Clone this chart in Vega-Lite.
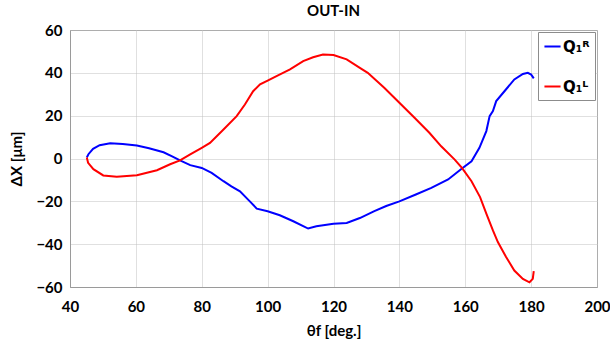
{
  "$schema": "https://vega.github.io/schema/vega-lite/v6.json",
  "autosize": {"type": "none"},
  "padding": {"left": 70, "top": 30, "right": 13, "bottom": 59},
  "width": 527,
  "height": 257,
  "title": {"text": "OUT-IN", "fontSize": 15, "font": "Lato", "fontWeight": "bold", "color": "#000", "offset": 4, "anchor": "middle"},
  "config": {
    "font": "Lato",
    "view": {"stroke": "#9a9a9a", "strokeWidth": 1},
    "axis": {
      "domainColor": "#9a9a9a",
      "gridColor": "#c0c0c0",
      "gridDash": [1, 1],
      "gridWidth": 1,
      "ticks": false,
      "labelFlush": false,
      "labelOverlap": false,
      "labelBound": false,
      "labelFont": "Lato",
      "labelFontSize": 15,
      "labelFontWeight": "bold",
      "labelColor": "#000",
      "titleFont": "Lato",
      "titleFontSize": 15,
      "titleFontWeight": "bold",
      "titleColor": "#000"
    }
  },
  "data": {
    "values": [
      {"s": "Q₁ᴿ", "i": 1, "x": 45.1, "y": 0.5},
      {"s": "Q₁ᴿ", "i": 2, "x": 45.6, "y": 2},
      {"s": "Q₁ᴿ", "i": 3, "x": 47, "y": 4.5},
      {"s": "Q₁ᴿ", "i": 4, "x": 49, "y": 6.2},
      {"s": "Q₁ᴿ", "i": 5, "x": 52.2, "y": 7.1},
      {"s": "Q₁ᴿ", "i": 6, "x": 56, "y": 6.8},
      {"s": "Q₁ᴿ", "i": 7, "x": 60.3, "y": 6.1},
      {"s": "Q₁ᴿ", "i": 8, "x": 64, "y": 4.8},
      {"s": "Q₁ᴿ", "i": 9, "x": 68.4, "y": 2.9},
      {"s": "Q₁ᴿ", "i": 10, "x": 71, "y": 1},
      {"s": "Q₁ᴿ", "i": 11, "x": 73.4, "y": -0.9},
      {"s": "Q₁ᴿ", "i": 12, "x": 76.5, "y": -3.1},
      {"s": "Q₁ᴿ", "i": 13, "x": 80, "y": -4.4},
      {"s": "Q₁ᴿ", "i": 14, "x": 83, "y": -6.7},
      {"s": "Q₁ᴿ", "i": 15, "x": 86.6, "y": -10.6},
      {"s": "Q₁ᴿ", "i": 16, "x": 89, "y": -13},
      {"s": "Q₁ᴿ", "i": 17, "x": 91.6, "y": -15.3},
      {"s": "Q₁ᴿ", "i": 18, "x": 94.6, "y": -20},
      {"s": "Q₁ᴿ", "i": 19, "x": 96.7, "y": -23.4},
      {"s": "Q₁ᴿ", "i": 20, "x": 100, "y": -24.6},
      {"s": "Q₁ᴿ", "i": 21, "x": 103.7, "y": -26.5},
      {"s": "Q₁ᴿ", "i": 22, "x": 107.8, "y": -29.3},
      {"s": "Q₁ᴿ", "i": 23, "x": 110.8, "y": -31.6},
      {"s": "Q₁ᴿ", "i": 24, "x": 112.3, "y": -32.7},
      {"s": "Q₁ᴿ", "i": 25, "x": 114.8, "y": -31.6},
      {"s": "Q₁ᴿ", "i": 26, "x": 120, "y": -30.5},
      {"s": "Q₁ᴿ", "i": 27, "x": 124, "y": -30.1},
      {"s": "Q₁ᴿ", "i": 28, "x": 128, "y": -27.8},
      {"s": "Q₁ᴿ", "i": 29, "x": 132.4, "y": -24.6},
      {"s": "Q₁ᴿ", "i": 30, "x": 136, "y": -22.2},
      {"s": "Q₁ᴿ", "i": 31, "x": 140, "y": -20},
      {"s": "Q₁ᴿ", "i": 32, "x": 145, "y": -16.8},
      {"s": "Q₁ᴿ", "i": 33, "x": 149.7, "y": -13.7},
      {"s": "Q₁ᴿ", "i": 34, "x": 154.8, "y": -9.8},
      {"s": "Q₁ᴿ", "i": 35, "x": 159, "y": -4.7},
      {"s": "Q₁ᴿ", "i": 36, "x": 161.9, "y": -1.3},
      {"s": "Q₁ᴿ", "i": 37, "x": 164.3, "y": 5},
      {"s": "Q₁ᴿ", "i": 38, "x": 166.4, "y": 12.8},
      {"s": "Q₁ᴿ", "i": 39, "x": 167.4, "y": 19.8},
      {"s": "Q₁ᴿ", "i": 40, "x": 168.4, "y": 22.1},
      {"s": "Q₁ᴿ", "i": 41, "x": 169.4, "y": 26.8},
      {"s": "Q₁ᴿ", "i": 42, "x": 171.9, "y": 31.4},
      {"s": "Q₁ᴿ", "i": 43, "x": 174.9, "y": 36.9},
      {"s": "Q₁ᴿ", "i": 44, "x": 177.5, "y": 39.5},
      {"s": "Q₁ᴿ", "i": 45, "x": 179, "y": 40},
      {"s": "Q₁ᴿ", "i": 46, "x": 180, "y": 39.2},
      {"s": "Q₁ᴿ", "i": 47, "x": 180.8, "y": 37.4},
      {"s": "Q₁ᴸ", "i": 1, "x": 45.1, "y": 0.5},
      {"s": "Q₁ᴸ", "i": 2, "x": 45.5, "y": -2},
      {"s": "Q₁ᴸ", "i": 3, "x": 47.1, "y": -5},
      {"s": "Q₁ᴸ", "i": 4, "x": 50.1, "y": -7.9},
      {"s": "Q₁ᴸ", "i": 5, "x": 54.2, "y": -8.5},
      {"s": "Q₁ᴸ", "i": 6, "x": 60.3, "y": -7.8},
      {"s": "Q₁ᴸ", "i": 7, "x": 66.4, "y": -5.5},
      {"s": "Q₁ᴸ", "i": 8, "x": 70.4, "y": -2.7},
      {"s": "Q₁ᴸ", "i": 9, "x": 73.4, "y": -0.9},
      {"s": "Q₁ᴸ", "i": 10, "x": 76.5, "y": 1.9},
      {"s": "Q₁ᴸ", "i": 11, "x": 80, "y": 5},
      {"s": "Q₁ᴸ", "i": 12, "x": 82.5, "y": 7.3},
      {"s": "Q₁ᴸ", "i": 13, "x": 86.6, "y": 13.5},
      {"s": "Q₁ᴸ", "i": 14, "x": 90.6, "y": 19.8},
      {"s": "Q₁ᴸ", "i": 15, "x": 93.1, "y": 25.2},
      {"s": "Q₁ᴸ", "i": 16, "x": 95.6, "y": 31.4},
      {"s": "Q₁ᴸ", "i": 17, "x": 97.7, "y": 34.6},
      {"s": "Q₁ᴸ", "i": 18, "x": 100, "y": 36.4},
      {"s": "Q₁ᴸ", "i": 19, "x": 102.7, "y": 38.5},
      {"s": "Q₁ᴸ", "i": 20, "x": 106.8, "y": 41.6},
      {"s": "Q₁ᴸ", "i": 21, "x": 110.8, "y": 45.5},
      {"s": "Q₁ᴸ", "i": 22, "x": 113.8, "y": 47.3},
      {"s": "Q₁ᴸ", "i": 23, "x": 116.8, "y": 48.6},
      {"s": "Q₁ᴸ", "i": 24, "x": 120, "y": 48.3},
      {"s": "Q₁ᴸ", "i": 25, "x": 124, "y": 46.3},
      {"s": "Q₁ᴸ", "i": 26, "x": 128, "y": 42.3},
      {"s": "Q₁ᴸ", "i": 27, "x": 130.4, "y": 40},
      {"s": "Q₁ᴸ", "i": 28, "x": 135.4, "y": 33},
      {"s": "Q₁ᴸ", "i": 29, "x": 140, "y": 26},
      {"s": "Q₁ᴸ", "i": 30, "x": 144.6, "y": 19},
      {"s": "Q₁ᴸ", "i": 31, "x": 149.1, "y": 12},
      {"s": "Q₁ᴸ", "i": 32, "x": 152.7, "y": 5.7},
      {"s": "Q₁ᴸ", "i": 33, "x": 156.8, "y": -0.5},
      {"s": "Q₁ᴸ", "i": 34, "x": 159, "y": -4.4},
      {"s": "Q₁ᴸ", "i": 35, "x": 161.9, "y": -10.6},
      {"s": "Q₁ᴸ", "i": 36, "x": 164.5, "y": -18},
      {"s": "Q₁ᴸ", "i": 37, "x": 166.4, "y": -25.7},
      {"s": "Q₁ᴸ", "i": 38, "x": 168.4, "y": -33.6},
      {"s": "Q₁ᴸ", "i": 39, "x": 169.9, "y": -39},
      {"s": "Q₁ᴸ", "i": 40, "x": 172.4, "y": -46},
      {"s": "Q₁ᴸ", "i": 41, "x": 174.9, "y": -52.3},
      {"s": "Q₁ᴸ", "i": 42, "x": 177.5, "y": -56.2},
      {"s": "Q₁ᴸ", "i": 43, "x": 179.5, "y": -57.8},
      {"s": "Q₁ᴸ", "i": 44, "x": 180.5, "y": -56.2},
      {"s": "Q₁ᴸ", "i": 45, "x": 180.8, "y": -52.6}
    ]
  },
  "mark": {"type": "line", "strokeWidth": 2, "clip": true},
  "encoding": {
    "x": {
      "field": "x", "type": "quantitative",
      "scale": {"domain": [40, 200], "nice": false, "zero": false},
      "axis": {"values": [40, 60, 80, 100, 120, 140, 160, 180, 200], "title": "θf [deg.]", "labelPadding": 12, "titlePadding": 9}
    },
    "y": {
      "field": "y", "type": "quantitative",
      "scale": {"domain": [-60, 60], "nice": false, "zero": false},
      "axis": {"values": [-60, -40, -20, 0, 20, 40, 60], "title": "ΔX [μm]", "labelPadding": 8, "titlePadding": 11}
    },
    "order": {"field": "i", "type": "quantitative"},
    "color": {
      "field": "s", "type": "nominal",
      "scale": {"domain": ["Q₁ᴿ", "Q₁ᴸ"], "range": ["#0000ff", "#ff0000"]},
      "legend": {
        "title": null,
        "orient": "top-right",
        "offset": 2,
        "symbolType": "stroke",
        "symbolStrokeWidth": 2,
        "symbolSize": 260,
        "labelFontSize": 15,
        "labelFontWeight": "bold",
        "labelColor": "#000",
        "labelFont": "DejaVu Sans",
        "strokeColor": "#8c8c8c",
        "fillColor": "#ffffff",
        "padding": 5,
        "rowPadding": 22,
        "labelOffset": 1
      }
    }
  }
}
